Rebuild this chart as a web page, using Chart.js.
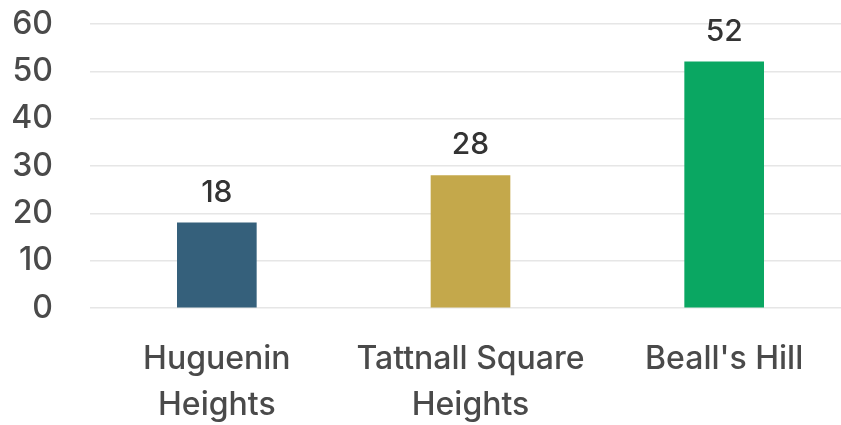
<!DOCTYPE html>
<html>
<head>
<meta charset="utf-8">
<script src="https://cdn.jsdelivr.net/npm/chart.js@4"></script>
<style>
  html, body { margin: 0; padding: 0; background: #fff; overflow: hidden; }
  #wrap { width: 851px; height: 425px; }
</style>
</head>
<body>
<div id="wrap"><canvas id="myChart"></canvas></div>
<script>
const neighbourhoods = [["Huguenin", "Heights"], ["Tattnall Square", "Heights"], "Beall's Hill"]
const counts = [18, 28, 52]
const barColors = ["#35607b", "#c4a84b", "#0aa762"]
const yTicks = [0, 10, 20, 30, 40, 50, 60]

const fontName = "Inter, sans-serif"

// draws the number above each bar
const valueLabels = {
  id: "valueLabels",
  afterDatasetsDraw(chart) {
    const ctx = chart.ctx
    const meta = chart.getDatasetMeta(0)
    ctx.save()
    ctx.font = "500 30px " + fontName
    ctx.fillStyle = "#333333"
    ctx.textAlign = "center"
    ctx.textBaseline = "middle"
    meta.data.forEach((bar, i) => {
      ctx.fillText(counts[i], bar.x, bar.y - 30)
    })
    ctx.restore()
  }
}

new Chart(document.getElementById("myChart"), {
  type: "bar",
  data: {
    labels: neighbourhoods,
    datasets: [{
      data: counts,
      backgroundColor: barColors,
      barThickness: 79
    }]
  },
  options: {
    responsive: true,
    maintainAspectRatio: false,
    animation: false,
    layout: { padding: 0 },
    plugins: { legend: { display: false }, tooltip: { enabled: false } },
    scales: {
      x: {
        grid: { display: false, drawTicks: false },
        border: { display: false },
        ticks: {
          color: "#4a4a4a",
          font: { family: fontName, size: 32, weight: 500, lineHeight: 1.45 },
          padding: 28,
          maxRotation: 0,
          autoSkip: false
        },
        afterFit(axis) {
          axis.height = 117
          axis.paddingLeft = 0
          axis.paddingRight = 0
        }
      },
      y: {
        min: 0,
        max: 60,
        afterBuildTicks(axis) { axis.ticks = yTicks.map(v => ({ value: v })) },
        grid: { color: "#e6e6e6", lineWidth: 1.5, drawTicks: false },
        border: { display: false },
        ticks: {
          color: "#4a4a4a",
          font: { family: fontName, size: 32, weight: 500 },
          padding: 37
        },
        afterFit(axis) {
          axis.width = 90
          axis.paddingTop = 24
          axis.paddingBottom = 0
        }
      }
    }
  },
  plugins: [valueLabels]
})
</script>
</body>
</html>
